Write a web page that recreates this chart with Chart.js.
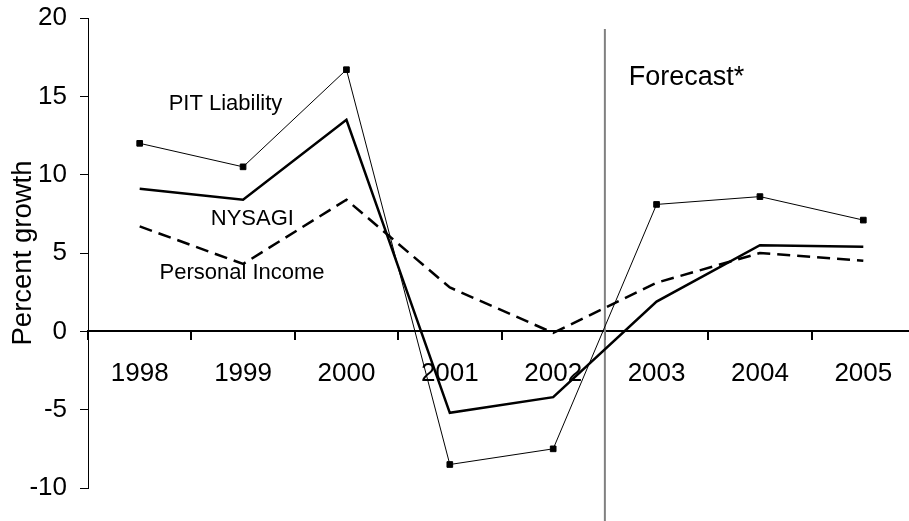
<!DOCTYPE html>
<html>
<head>
<meta charset="utf-8">
<script src="https://cdn.jsdelivr.net/npm/chart.js@4"></script>
<style>
  html, body { margin: 0; padding: 0; background: #fff; overflow: hidden; }
  #wrap { width: 909px; height: 521px; overflow: hidden; }
</style>
</head>
<body>
<div id="wrap"><canvas id="myChart" width="920" height="521"></canvas></div>
<script>
const years = ["1998", "1999", "2000", "2001", "2002", "2003", "2004", "2005"];
const pitLiability = [12.0, 10.5, 16.7, -8.5, -7.5, 8.1, 8.6, 7.1];
const nysagi = [9.1, 8.4, 13.5, -5.2, -4.2, 1.9, 5.5, 5.4];
const personalIncome = [6.7, 4.3, 8.4, 2.8, -0.1, 3.1, 5.0, 4.5];
const yTicks = [-10, -5, 0, 5, 10, 15, 20];

// text labels placed on the chart (x = category index, y = value)
const notes = [
    { text: "PIT Liability", x: 0.83, y: 14.5, size: 22 },
    { text: "NYSAGI", x: 1.09, y: 7.2, size: 22 },
    { text: "Personal Income", x: 0.99, y: 3.7, size: 22 },
    { text: "Forecast*", x: 5.29, y: 16.2, size: 27 }
];

const FONT = "'Liberation Sans', Arial, sans-serif";

const overlay = {
    id: "overlay",
    beforeDatasetsDraw(chart) {
        const ctx = chart.ctx;
        const x = chart.scales.x;
        const y = chart.scales.y;
        // forecast divider between 2002 and 2003
        const px = (x.getPixelForValue(4) + x.getPixelForValue(5)) / 2;
        ctx.save();
        ctx.strokeStyle = "#808080";
        ctx.lineWidth = 2;
        ctx.beginPath();
        ctx.moveTo(px, y.getPixelForValue(19.3));
        ctx.lineTo(px, chart.height);
        ctx.stroke();
        ctx.restore();
    },
    afterDatasetsDraw(chart) {
        const ctx = chart.ctx;
        const x = chart.scales.x;
        const y = chart.scales.y;
        const step = x.getPixelForValue(1) - x.getPixelForValue(0);
        ctx.save();
        ctx.fillStyle = "#000";
        ctx.textAlign = "center";
        ctx.textBaseline = "middle";
        notes.forEach(n => {
            ctx.font = n.size + "px " + FONT;
            ctx.fillText(n.text, x.getPixelForValue(0) + n.x * step, y.getPixelForValue(n.y));
        });
        ctx.restore();
    }
};

let chart = new Chart("myChart", {
    type: "line",
    data: {
        labels: years,
        datasets: [{
            label: "PIT Liability",
            data: pitLiability,
            borderColor: "#000",
            backgroundColor: "#000",
            borderWidth: 1,
            pointStyle: "rect",
            pointRadius: 4,
            pointBorderWidth: 1,
            tension: 0
        }, {
            label: "NYSAGI",
            data: nysagi,
            borderColor: "#000",
            borderWidth: 2.5,
            pointRadius: 0,
            tension: 0
        }, {
            label: "Personal Income",
            data: personalIncome,
            borderColor: "#000",
            borderWidth: 2.5,
            borderDash: [13, 7],
            pointRadius: 0,
            tension: 0
        }]
    },
    options: {
        responsive: false,
        animation: false,
        layout: { padding: { top: 18, bottom: 33, left: 0, right: 5 } },
        plugins: {
            legend: { display: false },
            tooltip: { enabled: false }
        },
        scales: {
            x: {
                position: { y: 0 },
                offset: true,
                grid: {
                    offset: true,
                    drawOnChartArea: false,
                    drawTicks: true,
                    tickLength: 8,
                    color: "#000",
                    lineWidth: 2
                },
                border: { color: "#000", width: 2 },
                ticks: {
                    color: "#000",
                    padding: 19,
                    maxRotation: 0,
                    font: { family: FONT, size: 26 }
                }
            },
            y: {
                min: -10,
                max: 20,
                afterFit(scale) {
                    scale.width = 88;
                    scale.paddingTop = 0;
                    scale.paddingBottom = 0;
                },
                afterBuildTicks(scale) { scale.ticks = yTicks.map(v => ({ value: v })); },
                grid: {
                    drawOnChartArea: false,
                    drawTicks: true,
                    tickLength: 8,
                    color: "#000",
                    lineWidth: 1
                },
                border: { color: "#000", width: 1 },
                ticks: {
                    color: "#000",
                    padding: 13,
                    font: { family: FONT, size: 26 }
                },
                title: {
                    display: true,
                    text: "Percent growth",
                    color: "#000",
                    padding: { top: 7, bottom: 0 },
                    font: { family: FONT, size: 27.5 }
                }
            }
        }
    },
    plugins: [overlay]
});
</script>
</body>
</html>
